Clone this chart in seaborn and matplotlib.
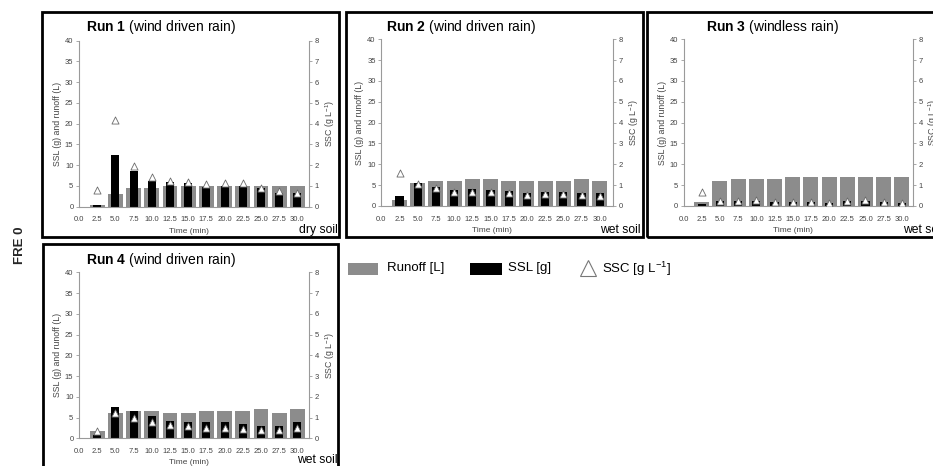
import numpy as np
import pandas as pd
import matplotlib
matplotlib.use("Agg")
import matplotlib.pyplot as plt
import seaborn as sns
from matplotlib.patches import Rectangle
from matplotlib.lines import Line2D

# ---------------- data ----------------
time_labels = ["0.0", "2.5", "5.0", "7.5", "10.0", "12.5", "15.0",
               "17.5", "20.0", "22.5", "25.0", "27.5", "30.0"]
bar_times = time_labels[1:]

run_names = ["Run 1", "Run 2", "Run 3", "Run 4"]
rain_types = ["(wind driven rain)", "(wind driven rain)", "(windless rain)", "(wind driven rain)"]
soil_states = ["dry soil", "wet soil", "wet soil", "wet soil"]
legend_labels = ["Runoff [L]", "SSL [g]", "SSC [g L$^{-1}$]"]
row_label = "FRE 0"

runoff_run1 = [0.4, 3.0, 4.4, 4.4, 5.0, 5.0, 5.0, 5.0, 5.0, 5.0, 5.0, 5.0]
ssl_run1 = [0.3, 12.4, 8.7, 6.3, 5.9, 5.6, 4.8, 5.1, 5.1, 4.4, 3.4, 3.2]
ssc_run1 = [0.8, 4.2, 1.96, 1.45, 1.22, 1.17, 1.08, 1.14, 1.14, 0.88, 0.74, 0.67]

runoff_run2 = [1.4, 5.4, 6.0, 6.0, 6.5, 6.5, 6.0, 6.0, 6.0, 6.0, 6.5, 6.0]
ssl_run2 = [2.4, 5.6, 4.6, 3.8, 4.0, 3.8, 3.6, 3.0, 3.3, 3.3, 3.2, 3.0]
ssc_run2 = [1.6, 1.05, 0.85, 0.67, 0.67, 0.67, 0.64, 0.53, 0.58, 0.58, 0.55, 0.5]

runoff_run3 = [1.0, 5.9, 6.4, 6.4, 6.4, 7.0, 7.0, 7.0, 7.0, 7.0, 7.0, 7.0]
ssl_run3 = [0.5, 1.1, 1.1, 1.2, 0.9, 1.0, 0.9, 0.8, 1.2, 1.2, 0.9, 0.8]
ssc_run3 = [0.66, 0.24, 0.22, 0.27, 0.19, 0.2, 0.19, 0.13, 0.25, 0.27, 0.19, 0.13]

runoff_run4 = [1.85, 6.0, 6.6, 6.5, 6.0, 6.0, 6.5, 6.5, 6.5, 7.0, 6.0, 7.0]
ssl_run4 = [0.8, 7.6, 6.6, 5.4, 4.2, 3.9, 3.9, 3.9, 3.4, 3.0, 3.0, 3.9]
ssc_run4 = [0.35, 1.24, 0.96, 0.77, 0.66, 0.6, 0.51, 0.51, 0.45, 0.39, 0.39, 0.51]

runoff_all = [runoff_run1, runoff_run2, runoff_run3, runoff_run4]
ssl_all = [ssl_run1, ssl_run2, ssl_run3, ssl_run4]
ssc_all = [ssc_run1, ssc_run2, ssc_run3, ssc_run4]

# ---------------- style ----------------
sns.set_style("white")
plt.rcParams["font.family"] = ["Liberation Sans", "DejaVu Sans"]
plt.rcParams["mathtext.fontset"] = "custom"
plt.rcParams["mathtext.rm"] = "Liberation Sans"
plt.rcParams["mathtext.it"] = "Liberation Sans:italic"
plt.rcParams["mathtext.bf"] = "Liberation Sans:bold"

GRAY = "#8c8c8c"
AXC = "#9a9a9a"
TXT = "#444444"
TRI_EDGE = "#6a6a6a"

W, H = 933, 466
fig = plt.figure(figsize=(W / 100, H / 100), dpi=100)

# layout in pixels: x of category 0.0, step, right limit (data), top px, bottom px
layouts = [
    dict(zero=79.0, step=18.2, right=12.65, top=40.7, bot=206.7),
    dict(zero=381.3, step=18.2, right=12.75, top=39.3, bot=206.0),
    dict(zero=683.5, step=18.2, right=12.6, top=39.3, bot=206.0),
    dict(zero=79.0, step=18.2, right=12.65, top=272.3, bot=438.3),
]
title_pos = [(85.7, 27), (385.7, 27), (706, 27), (85.7, 260)]
soil_pos = [(338, 230), (641, 230), (903, 230), (338, 460)]
frames = [(42, 12, 339, 237), (346, 12, 643, 237), (647, 12, 945, 237), (43, 244, 338, 475)]

XMIN = -0.6

for i in range(4):
    L = layouts[i]
    left_px = L["zero"] + XMIN * L["step"]
    right_px = L["zero"] + L["right"] * L["step"]
    ax = fig.add_axes([left_px / W, 1 - L["bot"] / H,
                       (right_px - left_px) / W, (L["bot"] - L["top"]) / H])
    df = pd.DataFrame({"time": bar_times, "runoff": runoff_all[i],
                       "ssl": ssl_all[i], "ssc": ssc_all[i]})
    sns.barplot(data=df, x="time", y="runoff", order=time_labels, color=GRAY,
                saturation=1, width=0.82, errorbar=None, linewidth=0, ax=ax)
    sns.barplot(data=df, x="time", y="ssl", order=time_labels, color="black",
                saturation=1, width=0.45, errorbar=None, linewidth=0, ax=ax)
    ax.set_ylim(0, 40)
    ax.set_yticks(np.arange(0, 41, 5))
    ax2 = ax.twinx()
    pos = [time_labels.index(t) for t in df["time"]]
    sns.scatterplot(x=pos, y=df["ssc"], marker="^", s=26, color="white",
                    edgecolor=TRI_EDGE, linewidth=0.6, ax=ax2, zorder=5)
    ax2.set_ylim(0, 8)
    ax2.set_yticks(np.arange(0, 9, 1))
    ax.set_xlim(XMIN, L["right"])

    for a in (ax, ax2):
        a.spines["top"].set_visible(False)
        a.set_facecolor("none")
        a.grid(False)
    ax.spines["right"].set_visible(False)
    ax2.spines["left"].set_visible(False)
    ax2.spines["bottom"].set_visible(False)
    ax.spines["left"].set_position(("data", 0))
    ax.spines["bottom"].set_bounds(0, L["right"])
    for sp in ("left", "bottom"):
        ax.spines[sp].set_color(AXC)
        ax.spines[sp].set_linewidth(0.8)
    ax2.spines["right"].set_color(AXC)
    ax2.spines["right"].set_linewidth(0.8)

    ax.tick_params(axis="x", length=0, labelsize=5.5, labelcolor=TXT, pad=7)
    ax.tick_params(axis="y", length=2, width=0.6, color=AXC, labelsize=5.5,
                   labelcolor=TXT, pad=2, direction="out")
    ax2.tick_params(axis="y", length=2, width=0.6, color=AXC, labelsize=5.5,
                    labelcolor=TXT, pad=2, direction="out")
    ax.set_ylabel("SSL (g) and runoff (L)", fontsize=6.3, color=TXT, labelpad=2)
    ax2.set_ylabel("SSC (g L$^{-1}$)", fontsize=6.3, color=TXT, labelpad=3)
    ax.set_xlabel("Time (min)", fontsize=6, color=TXT, labelpad=3)

    tx, ty = title_pos[i]
    fig.text(tx / W, 1 - ty / H,
             r"$\bf{" + run_names[i].replace(" ", r"\ ") + "}$ " + rain_types[i],
             fontsize=10, va="center", ha="left", color="black")
    sx, sy = soil_pos[i]
    fig.text(sx / W, 1 - sy / H, soil_states[i], fontsize=8.7, va="center",
             ha="right" if i != 2 else "left", color="black")
    x0, y0, x1, y1 = frames[i]
    fig.patches.append(Rectangle((x0 / W, 1 - y1 / H), (x1 - x0) / W, (y1 - y0) / H,
                                 transform=fig.transFigure, fill=False,
                                 edgecolor="black", linewidth=2, zorder=10))

fig.text(20 / W, 1 - 245 / H, row_label, rotation=90, fontsize=9.5, fontweight="bold",
         ha="center", va="center")

# legend (figure-level key)
LY = 268.5
fig.patches.append(Rectangle((348 / W, 1 - 275 / H), 30 / W, 12.5 / H,
                             transform=fig.transFigure, facecolor=GRAY, edgecolor="none"))
fig.patches.append(Rectangle((470 / W, 1 - 275 / H), 32 / W, 12.5 / H,
                             transform=fig.transFigure, facecolor="black", edgecolor="none"))
fig.lines.append(Line2D([588 / W], [1 - 268 / H], transform=fig.transFigure,
                        marker="^", linestyle="none", markersize=11.5,
                        markerfacecolor="white", markeredgecolor="#777777",
                        markeredgewidth=0.8))
for lx, lab in zip([387, 508, 602], legend_labels):
    fig.text(lx / W, 1 - LY / H, lab, fontsize=9.5, va="center", ha="left", color="black")

fig.savefig("out.png", dpi=100)
